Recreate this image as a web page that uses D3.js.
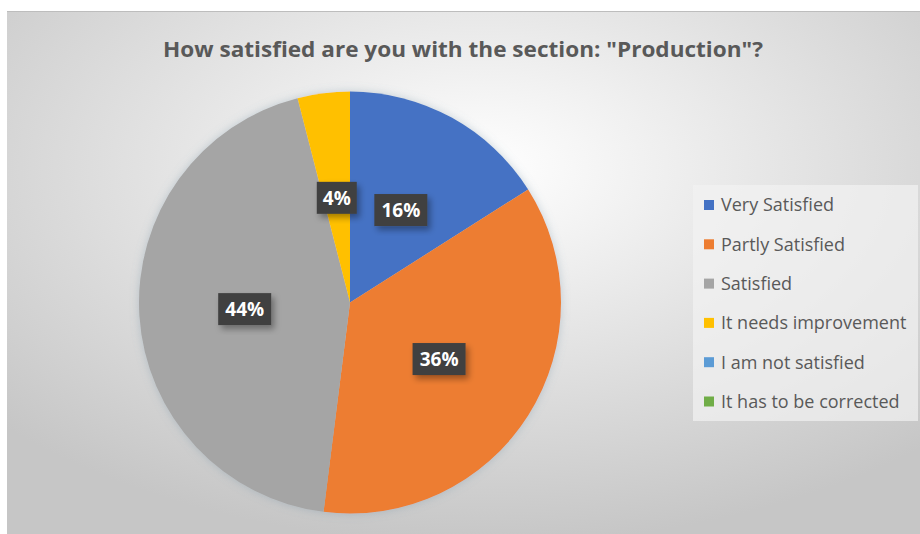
<!DOCTYPE html>
<html>
<head>
<meta charset="utf-8">
<script src="https://cdn.jsdelivr.net/npm/d3@7"></script>
<style>
  body { margin: 0; background: #fff; }
  text { font-family: "Open Sans", "Noto Sans", sans-serif; }
</style>
</head>
<body>
<svg id="chart" width="920" height="534"></svg>
<script>
// data
const categories = ["Very Satisfied", "Partly Satisfied", "Satisfied", "It needs improvement", "I am not satisfied", "It has to be corrected"];
const shares = [16, 36, 44, 4, 0, 0];
const colors = ["#4472C4", "#ED7D31", "#A5A5A5", "#FFC000", "#5B9BD5", "#70AD47"];
const title = 'How satisfied are you with the section: "Production"?';

const svg = d3.select("#chart");
const defs = svg.append("defs");

// background gradient like the excel chart area
let bg = defs.append("radialGradient").attr("id", "bg")
  .attr("cx", "52%").attr("cy", "30%").attr("r", "72%");
bg.append("stop").attr("offset", "0%").attr("stop-color", "#ffffff");
bg.append("stop").attr("offset", "100%").attr("stop-color", "#c6c6c6");

let sh = defs.append("filter").attr("id", "shadow").attr("x", "-20%").attr("y", "-20%").attr("width", "150%").attr("height", "150%");
sh.append("feDropShadow").attr("dx", 3).attr("dy", 4).attr("stdDeviation", 3).attr("flood-color", "#000").attr("flood-opacity", 0.35);

let pieShadow = defs.append("filter").attr("id", "pieShadow").attr("x", "-10%").attr("y", "-10%").attr("width", "120%").attr("height", "120%");
pieShadow.append("feDropShadow").attr("dx", 0).attr("dy", 0).attr("stdDeviation", 5).attr("flood-color", "#6a8aa0").attr("flood-opacity", 0.35);

svg.append("rect")
  .attr("x", 7).attr("y", 11).attr("width", 913).attr("height", 523)
  .attr("fill", "url(#bg)");
svg.append("line")
  .attr("x1", 7).attr("x2", 920).attr("y1", 11.5).attr("y2", 11.5)
  .attr("stroke", "#bdbdbd");

svg.append("text")
  .attr("x", 463).attr("y", 57)
  .attr("text-anchor", "middle")
  .attr("font-size", 22).attr("font-weight", "bold")
  .attr("textLength", 600).attr("lengthAdjust", "spacingAndGlyphs")
  .attr("fill", "#595959")
  .text(title);

// pie
const cx = 350, cy = 302.5, radius = 211;
const pie = d3.pie().sort(null).value(d => d.value);
const arcs = pie(categories.map((c, i) => ({ name: c, value: shares[i], color: colors[i] })));
const arc = d3.arc().innerRadius(0).outerRadius(radius);

const g = svg.append("g").attr("transform", "translate(" + cx + "," + cy + ")");

g.append("g").attr("filter", "url(#pieShadow)")
  .selectAll("path")
  .data(arcs.filter(d => d.data.value > 0))
  .join("path")
  .attr("d", arc)
  .attr("fill", d => d.data.color);

// dark label boxes
const labels = g.selectAll(".lbl")
  .data(arcs.filter(d => d.data.value > 0))
  .join("g")
  .attr("class", "lbl")
  .attr("transform", d => "translate(" + arc.centroid(d) + ")");

labels.each(function (d) {
  const txt = d.data.value + "%";
  const w = txt.length * 13 + 14;
  d3.select(this).append("rect")
    .attr("x", -w / 2).attr("y", -16).attr("width", w).attr("height", 32)
    .attr("fill", "#404040")
    .attr("filter", "url(#shadow)");
  d3.select(this).append("text")
    .attr("text-anchor", "middle").attr("dy", "0.36em")
    .attr("font-size", 19).attr("font-weight", "bold")
    .attr("fill", "#ffffff")
    .text(txt);
});

// legend
const legend = svg.append("g").attr("transform", "translate(693,185)");
legend.append("rect")
  .attr("width", 225).attr("height", 236)
  .attr("fill", "#f2f2f2").attr("opacity", 0.7);

const item = legend.selectAll(".item")
  .data(categories)
  .join("g")
  .attr("class", "item")
  .attr("transform", (d, i) => "translate(0," + (20 + i * 39.3) + ")");

item.append("rect")
  .attr("x", 11).attr("y", -5).attr("width", 10).attr("height", 10)
  .attr("fill", (d, i) => colors[i]);
item.append("text")
  .attr("x", 28).attr("dy", "0.35em")
  .attr("font-size", 18).attr("fill", "#595959")
  .text(d => d);
</script>
</body>
</html>
